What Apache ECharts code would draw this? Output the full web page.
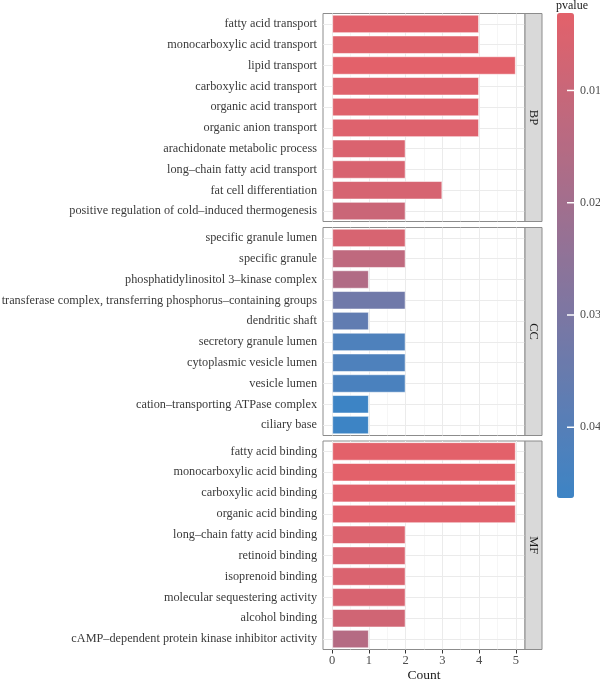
<!DOCTYPE html>
<html>
<head>
<meta charset="utf-8">
<script src="https://cdn.jsdelivr.net/npm/echarts@6/dist/echarts.min.js"></script>
<style>
  html, body { margin: 0; padding: 0; background: #fff; }
  #main { width: 600px; height: 680px; }
</style>
</head>
<body>
<div id="main"></div>
<script>
// GO enrichment, one facet per ontology
const bpTerms = ['fatty acid transport', 'monocarboxylic acid transport', 'lipid transport',
  'carboxylic acid transport', 'organic acid transport', 'organic anion transport',
  'arachidonate metabolic process', 'long–chain fatty acid transport', 'fat cell differentiation',
  'positive regulation of cold–induced thermogenesis'];
const bpCount = [4, 4, 5, 4, 4, 4, 2, 2, 3, 2];
const bpP = [0.0035, 0.0038, 0.0031, 0.0042, 0.0042, 0.0045, 0.0055, 0.006, 0.0065, 0.0095];

const ccTerms = ['specific granule lumen', 'specific granule', 'phosphatidylinositol 3–kinase complex',
  'transferase complex, transferring phosphorus–containing groups', 'dendritic shaft',
  'secretory granule lumen', 'cytoplasmic vesicle lumen', 'vesicle lumen',
  'cation–transporting ATPase complex', 'ciliary base'];
const ccCount = [2, 2, 1, 2, 1, 2, 2, 2, 1, 1];
const ccP = [0.0062, 0.0125, 0.016, 0.033, 0.037, 0.042, 0.042, 0.043, 0.0463, 0.0463];

const mfTerms = ['fatty acid binding', 'monocarboxylic acid binding', 'carboxylic acid binding',
  'organic acid binding', 'long–chain fatty acid binding', 'retinoid binding', 'isoprenoid binding',
  'molecular sequestering activity', 'alcohol binding',
  'cAMP–dependent protein kinase inhibitor activity'];
const mfCount = [5, 5, 5, 5, 2, 2, 2, 2, 2, 1];
const mfP = [0.0031, 0.0031, 0.0035, 0.0035, 0.005, 0.0055, 0.0055, 0.006, 0.008, 0.015];

const countTicks = [0, 1, 2, 3, 4, 5];
const countMinor = [0.5, 1.5, 2.5, 3.5, 4.5];
const pTicks = [0.01, 0.02, 0.03, 0.04];

const facets = [
  {name: 'BP', terms: bpTerms, count: bpCount, p: bpP, top: 13.5, height: 208},
  {name: 'CC', terms: ccTerms, count: ccCount, p: ccP, top: 227.5, height: 208},
  {name: 'MF', terms: mfTerms, count: mfCount, p: mfP, top: 441, height: 208.5}
];

const allP = bpP.concat(ccP, mfP);
const pMin = Math.min.apply(null, allP);
const pMax = Math.max.apply(null, allP);

const serif = '"Liberation Serif", "DejaVu Serif", serif';
const panelLeft = 323, panelWidth = 202, stripWidth = 17;
const barTop = 13, barHeight = 485;

const chart = echarts.init(document.getElementById('main'));

const grids = [], xAxes = [], yAxes = [], series = [], graphics = [];

facets.forEach(function (f, i) {
  const last = i === facets.length - 1;
  grids.push({
    left: panelLeft, top: f.top, width: panelWidth, height: f.height,
    outerBoundsMode: 'none', containLabel: false,
    show: true, borderColor: '#8C8C8C', borderWidth: 1, backgroundColor: '#fff'
  });
  xAxes.push({
    type: 'value', gridIndex: i, min: -0.25, max: 5.25,
    axisLine: {show: false},
    splitLine: {show: false},
    axisTick: {show: last, length: 4, customValues: countTicks, lineStyle: {color: '#333'}},
    axisLabel: {show: last, customValues: countTicks, margin: 5,
      fontFamily: serif, fontSize: 12.5, color: '#4D4D4D'},
    name: last ? 'Count' : '', nameLocation: 'middle', nameGap: 17,
    nameTextStyle: {fontFamily: serif, fontSize: 13.5, color: '#1A1A1A'}
  });
  yAxes.push({
    type: 'category', gridIndex: i, data: f.terms, inverse: true,
    axisLine: {show: false},
    splitLine: {show: false},
    axisTick: {show: true, alignWithLabel: true, length: 4, lineStyle: {color: '#333'}},
    axisLabel: {margin: 6, fontFamily: serif, fontSize: 12.25, color: '#3A3A3A'}
  });

  const gridLines = countTicks.map(function (v) {
    return {xAxis: v, lineStyle: {color: '#EBEBEB', width: 1}};
  }).concat(countMinor.map(function (v) {
    return {xAxis: v, lineStyle: {color: '#F2F2F2', width: 0.7}};
  })).concat(f.terms.map(function (t) {
    return {yAxis: t, lineStyle: {color: '#EBEBEB', width: 1}};
  }));

  series.push({
    type: 'bar', name: f.name, xAxisIndex: i, yAxisIndex: i, z: 2,
    data: f.count.map(function (c, k) { return [c, f.terms[k], f.p[k]]; }),
    encode: {x: 0, y: 1},
    barCategoryGap: '11%',
    itemStyle: {borderColor: 'rgba(255,255,255,0.55)', borderWidth: 1},
    markLine: {
      silent: true, z: 1, symbol: 'none', label: {show: false},
      lineStyle: {type: 'solid'}, animation: false,
      data: gridLines
    }
  });

  // facet strip on the right
  graphics.push({
    type: 'rect', z: 5,
    shape: {x: panelLeft + panelWidth, y: f.top, width: stripWidth, height: f.height},
    style: {fill: '#D9D9D9', stroke: '#8C8C8C', lineWidth: 1}
  });
  graphics.push({
    type: 'text', z: 6,
    x: panelLeft + panelWidth + stripWidth / 2, y: f.top + f.height / 2,
    rotation: -Math.PI / 2,
    style: {text: f.name, fontFamily: serif, fontSize: 12.5, fill: '#1A1A1A',
      align: 'center', verticalAlign: 'middle'}
  });
});

// axes used only for the colour bar ticks and labels
grids.push({left: 557, top: barTop, width: 17, height: barHeight, show: false,
  outerBoundsMode: 'none', containLabel: false});
xAxes.push({type: 'value', gridIndex: 3, min: 0, max: 1, show: false});
yAxes.push({
  type: 'value', gridIndex: 3, min: pMin, max: pMax, inverse: true, position: 'right',
  axisLine: {show: false, onZero: false}, splitLine: {show: false},
  axisTick: {show: false},
  axisLabel: {customValues: pTicks, margin: 6, fontFamily: serif, fontSize: 12, color: '#4D4D4D',
    formatter: function (v) { return v.toFixed(2); }}
});
series.push({
  type: 'scatter', xAxisIndex: 3, yAxisIndex: 3, z: 20, silent: true,
  symbol: 'rect', symbolSize: [7, 1.5], symbolOffset: [-3.5, 0],
  itemStyle: {color: '#fff', opacity: 1},
  data: pTicks.map(function (p) { return [1, p]; })
});

chart.setOption({
  animation: false,
  backgroundColor: '#fff',
  title: {
    text: 'pvalue', left: 556, top: 0, padding: 0,
    textStyle: {fontFamily: serif, fontSize: 12, fontWeight: 'normal', color: '#1A1A1A'}
  },
  grid: grids,
  xAxis: xAxes,
  yAxis: yAxes,
  visualMap: {
    type: 'continuous', seriesIndex: [0, 1, 2], dimension: 2, z: 2,
    min: pMin, max: pMax, inverse: true, calculable: false,
    orient: 'vertical', left: 557, top: barTop, padding: 0,
    itemWidth: 17, itemHeight: barHeight, text: null, showLabel: false,
    inRange: {color: ['#E3616A', '#3D84C5']}
  },
  graphic: graphics,
  series: series
});
</script>
</body>
</html>
